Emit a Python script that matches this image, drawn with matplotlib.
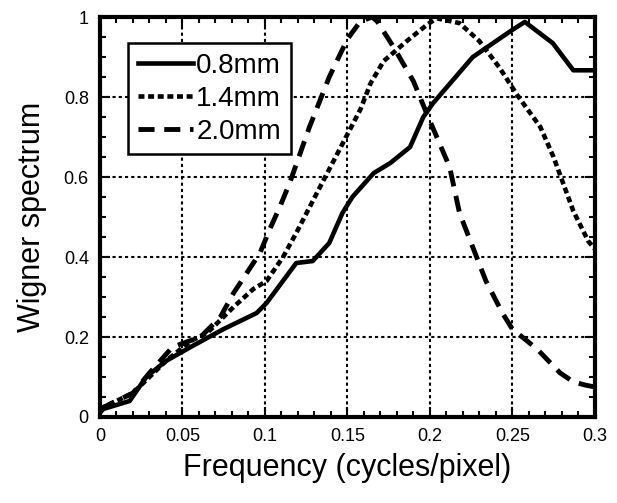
import matplotlib
matplotlib.use("Agg")
import matplotlib.pyplot as plt
from matplotlib.ticker import MultipleLocator

plt.rcParams['font.family'] = ['Liberation Sans', 'DejaVu Sans']

# 0.8 mm (solid)
x_08 = [0.0, 0.002, 0.018, 0.028, 0.04, 0.055, 0.075, 0.095, 0.101, 0.119, 0.129, 0.139,
        0.147, 0.153, 0.166, 0.176, 0.188, 0.196, 0.202, 0.226, 0.232, 0.250, 0.2576,
        0.2745, 0.287, 0.3]
y_08 = [0.01, 0.02, 0.04, 0.10, 0.14, 0.175, 0.22, 0.26, 0.285, 0.385, 0.39, 0.435,
        0.51, 0.55, 0.61, 0.635, 0.675, 0.75, 0.785, 0.90, 0.917, 0.968, 0.988,
        0.935, 0.867, 0.867]

# 1.4 mm (dotted)
x_14 = [0.0, 0.01, 0.02, 0.03, 0.04, 0.055, 0.065, 0.081, 0.093, 0.101, 0.111, 0.119, 0.129,
        0.145, 0.158, 0.164, 0.172, 0.186, 0.198, 0.204, 0.218, 0.23, 0.242, 0.253,
        0.267, 0.275, 0.287, 0.296, 0.3]
y_14 = [0.02, 0.04, 0.06, 0.10, 0.14, 0.19, 0.21, 0.275, 0.32, 0.34, 0.40, 0.46, 0.54,
        0.667, 0.77, 0.834, 0.89, 0.94, 0.98, 0.997, 0.985, 0.94, 0.875, 0.805,
        0.725, 0.65, 0.515, 0.44, 0.42]

# 2.0 mm (dashed)
x_20 = [0.0, 0.01, 0.02, 0.03, 0.044, 0.061, 0.073, 0.081, 0.089, 0.097, 0.103, 0.109,
        0.115, 0.127, 0.139, 0.15, 0.158, 0.165, 0.168, 0.178, 0.19, 0.198, 0.212, 0.218,
        0.226, 0.234, 0.244, 0.25, 0.265, 0.279, 0.287, 0.294, 0.3]
y_20 = [0.02, 0.04, 0.06, 0.11, 0.175, 0.20, 0.25, 0.31, 0.36, 0.41, 0.47, 0.525,
        0.585, 0.725, 0.85, 0.945, 0.99, 1.0, 0.99, 0.925, 0.84, 0.76, 0.625, 0.51,
        0.425, 0.34, 0.26, 0.22, 0.17, 0.11, 0.088, 0.08, 0.075]

labels = ['0.8mm', '1.4mm', '2.0mm']
xticks = [0, 0.05, 0.1, 0.15, 0.2, 0.25, 0.3]
xticklabels = ['0', '0.05', '0.1', '0.15', '0.2', '0.25', '0.3']
yticks = [0, 0.2, 0.4, 0.6, 0.8, 1.0]
yticklabels = ['0', '0.2', '0.4', '0.6', '0.8', '1']

fig = plt.figure(figsize=(6.17, 5.03), dpi=100)
ax = fig.add_axes([0.162, 0.171, 0.802, 0.795])

ax.plot(x_08, y_08, color='black', lw=3.3, linestyle='-', label=labels[0], zorder=3)
ax.plot(x_14, y_14, color='black', lw=3.3, linestyle=(0, (1.3, 0.8)), label=labels[1], zorder=3)
ax.plot(x_20, y_20, color='black', lw=3.5, linestyle=(0, (3.3, 2.0)), label=labels[2], zorder=3)

ax.set_xlim(0, 0.3)
ax.set_ylim(0, 1)
ax.set_xticks(xticks)
ax.set_xticklabels(xticklabels)
ax.set_yticks(yticks)
ax.set_yticklabels(yticklabels)
ax.xaxis.set_minor_locator(MultipleLocator(0.01))
ax.yaxis.set_minor_locator(MultipleLocator(0.05))
ax.tick_params(which='both', direction='in', top=True, right=True, width=1.5)
ax.tick_params(which='major', length=7, labelsize=13, pad=8)
ax.tick_params(which='minor', length=4)
for s in ax.spines.values():
    s.set_linewidth(3)

ax.grid(True, which='major', color='black', linestyle=(0, (1.5, 1.5)), linewidth=1.5)

ax.set_xlabel('Frequency (cycles/pixel)', fontsize=22, labelpad=6)
ax.set_ylabel('Wigner spectrum', fontsize=22, labelpad=12)

leg = ax.legend(loc='upper left', bbox_to_anchor=(0.057, 0.935), fontsize=20,
                frameon=True, fancybox=False, framealpha=1, edgecolor='black',
                handlelength=2.0, handletextpad=0.1, borderpad=0.35, labelspacing=0.25,
                borderaxespad=0)
leg.get_frame().set_linewidth(1.8)

fig.savefig('out.png', dpi=100)
